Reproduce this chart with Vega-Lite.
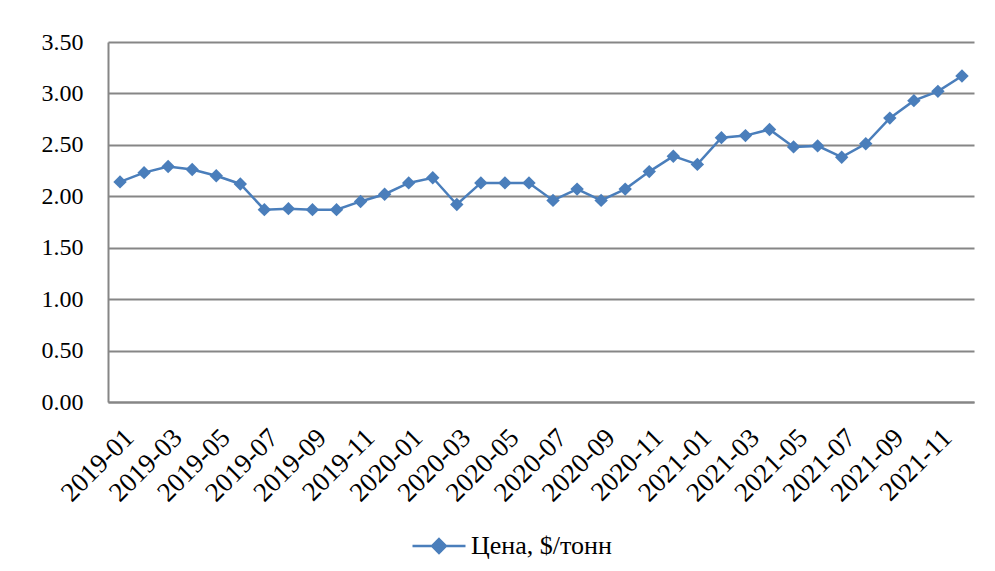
{
  "$schema": "https://vega.github.io/schema/vega-lite/v6.json",
  "autosize": {"type": "none"},
  "padding": {"left": 108, "top": 42, "right": 21, "bottom": 169},
  "width": 866,
  "height": 360,
  "background": "white",
  "config": {
    "font": "Liberation Serif",
    "view": {"stroke": null},
    "axis": {"labelFont": "Liberation Serif", "labelFontSize": 24, "labelColor": "#000000", "domainColor": "#868686", "domainWidth": 2, "gridColor": "#868686", "gridWidth": 2, "ticks": false}
  },
  "data": {"values": [
    {"month": "2019-01", "price": 2.14, "series": "Цена, $/тонн"},
    {"month": "2019-02", "price": 2.23, "series": "Цена, $/тонн"},
    {"month": "2019-03", "price": 2.29, "series": "Цена, $/тонн"},
    {"month": "2019-04", "price": 2.26, "series": "Цена, $/тонн"},
    {"month": "2019-05", "price": 2.20, "series": "Цена, $/тонн"},
    {"month": "2019-06", "price": 2.12, "series": "Цена, $/тонн"},
    {"month": "2019-07", "price": 1.87, "series": "Цена, $/тонн"},
    {"month": "2019-08", "price": 1.88, "series": "Цена, $/тонн"},
    {"month": "2019-09", "price": 1.87, "series": "Цена, $/тонн"},
    {"month": "2019-10", "price": 1.87, "series": "Цена, $/тонн"},
    {"month": "2019-11", "price": 1.95, "series": "Цена, $/тонн"},
    {"month": "2019-12", "price": 2.02, "series": "Цена, $/тонн"},
    {"month": "2020-01", "price": 2.13, "series": "Цена, $/тонн"},
    {"month": "2020-02", "price": 2.18, "series": "Цена, $/тонн"},
    {"month": "2020-03", "price": 1.92, "series": "Цена, $/тонн"},
    {"month": "2020-04", "price": 2.13, "series": "Цена, $/тонн"},
    {"month": "2020-05", "price": 2.13, "series": "Цена, $/тонн"},
    {"month": "2020-06", "price": 2.13, "series": "Цена, $/тонн"},
    {"month": "2020-07", "price": 1.96, "series": "Цена, $/тонн"},
    {"month": "2020-08", "price": 2.07, "series": "Цена, $/тонн"},
    {"month": "2020-09", "price": 1.96, "series": "Цена, $/тонн"},
    {"month": "2020-10", "price": 2.07, "series": "Цена, $/тонн"},
    {"month": "2020-11", "price": 2.24, "series": "Цена, $/тонн"},
    {"month": "2020-12", "price": 2.39, "series": "Цена, $/тонн"},
    {"month": "2021-01", "price": 2.31, "series": "Цена, $/тонн"},
    {"month": "2021-02", "price": 2.57, "series": "Цена, $/тонн"},
    {"month": "2021-03", "price": 2.59, "series": "Цена, $/тонн"},
    {"month": "2021-04", "price": 2.65, "series": "Цена, $/тонн"},
    {"month": "2021-05", "price": 2.48, "series": "Цена, $/тонн"},
    {"month": "2021-06", "price": 2.49, "series": "Цена, $/тонн"},
    {"month": "2021-07", "price": 2.38, "series": "Цена, $/тонн"},
    {"month": "2021-08", "price": 2.51, "series": "Цена, $/тонн"},
    {"month": "2021-09", "price": 2.76, "series": "Цена, $/тонн"},
    {"month": "2021-10", "price": 2.93, "series": "Цена, $/тонн"},
    {"month": "2021-11", "price": 3.02, "series": "Цена, $/тонн"},
    {"month": "2021-12", "price": 3.17, "series": "Цена, $/тонн"}
  ]},
  "encoding": {
    "x": {
      "field": "month", "type": "ordinal", "title": null,
      "scale": {"type": "point", "padding": 0.5},
      "axis": {
        "values": ["2019-01","2019-03","2019-05","2019-07","2019-09","2019-11","2020-01","2020-03","2020-05","2020-07","2020-09","2020-11","2021-01","2021-03","2021-05","2021-07","2021-09","2021-11"],
        "labelAngle": -45, "labelAlign": "right", "labelBaseline": "top", "labelPadding": 22, "labelDx": 4, "labelFontSize": 27, "grid": false
      }
    },
    "y": {
      "field": "price", "type": "quantitative", "title": null,
      "scale": {"domain": [0, 3.5], "nice": false},
      "axis": {"values": [0, 0.5, 1, 1.5, 2, 2.5, 3, 3.5], "format": ".2f", "labelPadding": 25, "grid": true}
    }
  },
  "layer": [
    {
      "mark": {"type": "line", "strokeWidth": 2.5},
      "encoding": {
        "color": {
          "field": "series", "type": "nominal",
          "scale": {"range": ["#4a7ebb"]},
          "legend": {
            "title": null, "orient": "none", "legendX": 303, "legendY": 476,
            "labelFont": "Liberation Serif", "labelFontSize": 26, "labelColor": "#000000",
            "symbolType": "M-1,0L1,0M0,-0.26L0.26,0L0,0.26L-0.26,0Z",
            "symbolSize": 2809, "symbolStrokeWidth": 2.5,
            "symbolFillColor": "#4a7ebb", "symbolStrokeColor": "#4a7ebb", "labelOffset": 4
          }
        }
      }
    },
    {
      "mark": {"type": "point", "shape": "diamond", "filled": true, "size": 180, "opacity": 1, "color": "#4a7ebb"}
    }
  ]
}
